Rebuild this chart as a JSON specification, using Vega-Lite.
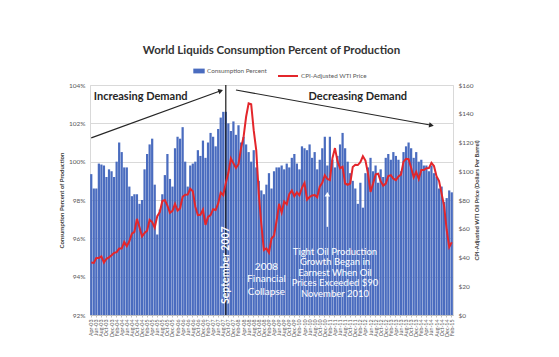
{
  "$schema": "https://vega.github.io/schema/vega-lite/v6.json",
  "width": 363,
  "height": 230,
  "autosize": {"type": "none"},
  "padding": {"left": 90, "top": 85, "right": 106, "bottom": 42},
  "background": "white",
  "config": {
    "font": "Lato",
    "view": {"stroke": "#d9d9d9"},
    "axis": {"labelColor": "#595959", "labelFont": "Lato", "titleFont": "Lato", "titleColor": "#404040"},
    "legend": {"labelFont": "Lato", "labelColor": "#595959", "labelFontSize": 6.3, "padding": 0}
  },
  "title": {"text": "World Liquids Consumption Percent of Production", "fontSize": 11.5, "fontWeight": "bold", "color": "#333333", "offset": 9, "font": "Lato"},
  "datasets": {
    "main": [
      {"m":"Apr-03","c":99.35,"p":36.5},{"m":"May-03","c":98.6,"p":36.2},{"m":"Jun-03","c":98.6,"p":39.6},{"m":"Jul-03","c":99.9,"p":39.7},{"m":"Aug-03","c":99.85,"p":40.8},{"m":"Sep-03","c":99.8,"p":36.5},{"m":"Oct-03","c":99.2,"p":39.1},{"m":"Nov-03","c":99.6,"p":40.1},{"m":"Dec-03","c":99.5,"p":41.5},
      {"m":"Jan-04","c":99.2,"p":43.2},{"m":"Feb-04","c":100.0,"p":43.7},{"m":"Mar-04","c":101.0,"p":46.2},{"m":"Apr-04","c":100.5,"p":46.2},{"m":"May-04","c":99.7,"p":50.8},{"m":"Jun-04","c":99.7,"p":47.9},{"m":"Jul-04","c":98.7,"p":51.3},{"m":"Aug-04","c":98.2,"p":56.6},{"m":"Sep-04","c":98.3,"p":57.8},{"m":"Oct-04","c":98.3,"p":66.9},{"m":"Nov-04","c":97.8,"p":61.1},{"m":"Dec-04","c":98.0,"p":54.6},
      {"m":"Jan-05","c":99.6,"p":57.1},{"m":"Feb-05","c":100.4,"p":58.6},{"m":"Mar-05","c":100.9,"p":66.2},{"m":"Apr-05","c":101.2,"p":64.7},{"m":"May-05","c":98.8,"p":60.8},{"m":"Jun-05","c":96.2,"p":68.7},{"m":"Jul-05","c":97.5,"p":71.6},{"m":"Aug-05","c":98.3,"p":79.3},{"m":"Sep-05","c":99.3,"p":80.0},{"m":"Oct-05","c":100.4,"p":76.1},{"m":"Nov-05","c":99.1,"p":71.1},{"m":"Dec-05","c":98.7,"p":72.5},
      {"m":"Jan-06","c":100.7,"p":77.3},{"m":"Feb-06","c":101.3,"p":72.7},{"m":"Mar-06","c":101.2,"p":74.2},{"m":"Apr-06","c":101.8,"p":82.2},{"m":"May-06","c":100.0,"p":83.7},{"m":"Jun-06","c":98.7,"p":83.8},{"m":"Jul-06","c":99.8,"p":87.8},{"m":"Aug-06","c":99.9,"p":86.1},{"m":"Sep-06","c":100.0,"p":75.3},{"m":"Oct-06","c":100.6,"p":69.5},{"m":"Nov-06","c":100.3,"p":69.7},{"m":"Dec-06","c":101.1,"p":73.2},
      {"m":"Jan-07","c":100.2,"p":62.7},{"m":"Feb-07","c":101.0,"p":68.2},{"m":"Mar-07","c":101.5,"p":69.5},{"m":"Apr-07","c":101.3,"p":73.6},{"m":"May-07","c":100.8,"p":73.0},{"m":"Jun-07","c":101.7,"p":77.6},{"m":"Jul-07","c":102.3,"p":85.2},{"m":"Aug-07","c":102.6,"p":83.3},{"m":"Sep-07","c":102.6,"p":91.9},{"m":"Oct-07","c":102.0,"p":98.7},{"m":"Nov-07","c":101.6,"p":109.0},{"m":"Dec-07","c":102.1,"p":105.5},
      {"m":"Jan-08","c":101.4,"p":102.3},{"m":"Feb-08","c":101.9,"p":104.9},{"m":"Mar-08","c":101.0,"p":116.1},{"m":"Apr-08","c":101.3,"p":123.9},{"m":"May-08","c":100.9,"p":137.9},{"m":"Jun-08","c":100.5,"p":147.3},{"m":"Jul-08","c":100.0,"p":146.7},{"m":"Aug-08","c":100.6,"p":128.4},{"m":"Sep-08","c":99.7,"p":114.5},{"m":"Oct-08","c":99.0,"p":84.3},{"m":"Nov-08","c":98.5,"p":63.0},{"m":"Dec-08","c":98.3,"p":45.2},
      {"m":"Jan-09","c":98.8,"p":46.3},{"m":"Feb-09","c":99.4,"p":43.4},{"m":"Mar-09","c":98.6,"p":53.2},{"m":"Apr-09","c":99.5,"p":55.2},{"m":"May-09","c":99.7,"p":65.5},{"m":"Jun-09","c":99.7,"p":77.3},{"m":"Jul-09","c":99.8,"p":71.3},{"m":"Aug-09","c":99.6,"p":78.9},{"m":"Sep-09","c":99.9,"p":77.0},{"m":"Oct-09","c":99.7,"p":84.0},{"m":"Nov-09","c":100.2,"p":86.6},{"m":"Dec-09","c":100.4,"p":82.7},
      {"m":"Jan-10","c":99.9,"p":85.3},{"m":"Feb-10","c":99.6,"p":83.3},{"m":"Mar-10","c":100.8,"p":88.5},{"m":"Apr-10","c":100.7,"p":91.9},{"m":"May-10","c":100.6,"p":80.3},{"m":"Jun-10","c":100.9,"p":82.1},{"m":"Jul-10","c":100.2,"p":83.2},{"m":"Aug-10","c":100.5,"p":83.5},{"m":"Sep-10","c":99.6,"p":82.0},{"m":"Oct-10","c":100.1,"p":89.3},{"m":"Nov-10","c":100.7,"p":91.9},{"m":"Dec-10","c":101.3,"p":97.2},
      {"m":"Jan-11","c":99.8,"p":94.6},{"m":"Feb-11","c":101.3,"p":93.9},{"m":"Mar-11","c":100.1,"p":109.1},{"m":"Apr-11","c":99.7,"p":116.1},{"m":"May-11","c":100.3,"p":107.0},{"m":"Jun-11","c":100.9,"p":102.1},{"m":"Jul-11","c":101.5,"p":103.1},{"m":"Aug-11","c":100.7,"p":91.5},{"m":"Sep-11","c":100.0,"p":90.6},{"m":"Oct-11","c":99.4,"p":91.5},{"m":"Nov-11","c":99.0,"p":103.0},{"m":"Dec-11","c":98.6,"p":104.5},
      {"m":"Jan-12","c":97.8,"p":104.3},{"m":"Feb-12","c":98.9,"p":106.3},{"m":"Mar-12","c":97.6,"p":110.4},{"m":"Apr-12","c":99.4,"p":107.4},{"m":"May-12","c":99.7,"p":98.5},{"m":"Jun-12","c":100.2,"p":85.6},{"m":"Jul-12","c":99.5,"p":91.4},{"m":"Aug-12","c":99.8,"p":97.9},{"m":"Sep-12","c":98.9,"p":98.3},{"m":"Oct-12","c":99.6,"p":93.1},{"m":"Nov-12","c":99.2,"p":90.0},{"m":"Dec-12","c":100.2,"p":91.4},
      {"m":"Jan-13","c":100.4,"p":96.7},{"m":"Feb-13","c":100.1,"p":97.2},{"m":"Mar-13","c":100.5,"p":94.8},{"m":"Apr-13","c":100.3,"p":93.8},{"m":"May-13","c":100.1,"p":96.4},{"m":"Jun-13","c":99.5,"p":97.7},{"m":"Jul-13","c":100.5,"p":106.7},{"m":"Aug-13","c":100.8,"p":108.7},{"m":"Sep-13","c":101.0,"p":108.4},{"m":"Oct-13","c":100.7,"p":102.5},{"m":"Nov-13","c":100.2,"p":95.8},{"m":"Dec-13","c":100.5,"p":99.6},
      {"m":"Jan-14","c":100.0,"p":94.6},{"m":"Feb-14","c":100.1,"p":100.8},{"m":"Mar-14","c":99.8,"p":100.8},{"m":"Apr-14","c":99.8,"p":102.1},{"m":"May-14","c":99.5,"p":102.2},{"m":"Jun-14","c":99.8,"p":105.8},{"m":"Jul-14","c":99.4,"p":103.6},{"m":"Aug-14","c":99.2,"p":96.5},{"m":"Sep-14","c":98.6,"p":93.2},{"m":"Oct-14","c":98.7,"p":84.4},{"m":"Nov-14","c":97.9,"p":75.8},{"m":"Dec-14","c":98.1,"p":59.3},
      {"m":"Jan-15","c":98.5,"p":47.2},{"m":"Feb-15","c":98.4,"p":50.6}
    ]
  },
  "encoding": {
    "x": {
      "field": "m", "type": "ordinal", "sort": null,
      "scale": {
        "paddingInner": 0.12, "paddingOuter": 0.05,
        "domain": ["Apr-03","May-03","Jun-03","Jul-03","Aug-03","Sep-03","Oct-03","Nov-03","Dec-03",
          "Jan-04","Feb-04","Mar-04","Apr-04","May-04","Jun-04","Jul-04","Aug-04","Sep-04","Oct-04","Nov-04","Dec-04",
          "Jan-05","Feb-05","Mar-05","Apr-05","May-05","Jun-05","Jul-05","Aug-05","Sep-05","Oct-05","Nov-05","Dec-05",
          "Jan-06","Feb-06","Mar-06","Apr-06","May-06","Jun-06","Jul-06","Aug-06","Sep-06","Oct-06","Nov-06","Dec-06",
          "Jan-07","Feb-07","Mar-07","Apr-07","May-07","Jun-07","Jul-07","Aug-07","Sep-07","Oct-07","Nov-07","Dec-07",
          "Jan-08","Feb-08","Mar-08","Apr-08","May-08","Jun-08","Jul-08","Aug-08","Sep-08","Oct-08","Nov-08","Dec-08",
          "Jan-09","Feb-09","Mar-09","Apr-09","May-09","Jun-09","Jul-09","Aug-09","Sep-09","Oct-09","Nov-09","Dec-09",
          "Jan-10","Feb-10","Mar-10","Apr-10","May-10","Jun-10","Jul-10","Aug-10","Sep-10","Oct-10","Nov-10","Dec-10",
          "Jan-11","Feb-11","Mar-11","Apr-11","May-11","Jun-11","Jul-11","Aug-11","Sep-11","Oct-11","Nov-11","Dec-11",
          "Jan-12","Feb-12","Mar-12","Apr-12","May-12","Jun-12","Jul-12","Aug-12","Sep-12","Oct-12","Nov-12","Dec-12",
          "Jan-13","Feb-13","Mar-13","Apr-13","May-13","Jun-13","Jul-13","Aug-13","Sep-13","Oct-13","Nov-13","Dec-13",
          "Jan-14","Feb-14","Mar-14","Apr-14","May-14","Jun-14","Jul-14","Aug-14","Sep-14","Oct-14","Nov-14","Dec-14",
          "Jan-15","Feb-15"]
      },
      "axis": {
        "title": null, "labelAngle": 270, "labelFontSize": 5.3, "labelPadding": 2,
        "tickSize": 2, "tickColor": "#bfbfbf", "domainColor": "#bfbfbf",
        "values": ["Apr-03","Jun-03","Aug-03","Oct-03","Dec-03",
          "Feb-04","Apr-04","Jun-04","Aug-04","Oct-04","Dec-04",
          "Feb-05","Apr-05","Jun-05","Aug-05","Oct-05","Dec-05",
          "Feb-06","Apr-06","Jun-06","Aug-06","Oct-06","Dec-06",
          "Feb-07","Apr-07","Jun-07","Aug-07","Oct-07","Dec-07",
          "Feb-08","Apr-08","Jun-08","Aug-08","Oct-08","Dec-08",
          "Feb-09","Apr-09","Jun-09","Aug-09","Oct-09","Dec-09",
          "Feb-10","Apr-10","Jun-10","Aug-10","Oct-10","Dec-10",
          "Feb-11","Apr-11","Jun-11","Aug-11","Oct-11","Dec-11",
          "Feb-12","Apr-12","Jun-12","Aug-12","Oct-12","Dec-12",
          "Feb-13","Apr-13","Jun-13","Aug-13","Oct-13","Dec-13",
          "Feb-14","Apr-14","Jun-14","Aug-14","Oct-14","Dec-14",
          "Feb-15"]
      }
    }
  },
  "layer": [
    {
      "encoding": {
        "y": {
          "field": "c", "type": "quantitative",
          "scale": {"domain": [92, 104], "zero": false, "nice": false},
          "axis": {
            "values": [92, 94, 96, 98, 100, 102, 104], "labelExpr": "datum.value + '%'",
            "labelFontSize": 6.5, "labelPadding": 5, "domain": false, "ticks": false,
            "grid": true, "gridColor": "#d9d9d9",
            "title": "Consumption Percent of Production", "titleFontSize": 6, "titleFontWeight": "bold", "titlePadding": 4
          }
        }
      },
      "layer": [
        {
          "data": {"name": "main"},
          "mark": {"type": "bar"},
          "encoding": {
            "y2": {"datum": 92},
            "fill": {"datum": "Consumption Percent", "type": "nominal", "scale": {"range": ["#4a6cbf"]},
              "legend": {"orient": "none", "legendX": 103, "legendY": -20, "title": null, "symbolType": "M-1,-0.42L1,-0.42L1,0.42L-1,0.42Z", "symbolSize": 130, "symbolStrokeWidth": 0, "labelOffset": 2}}
          }
        },
        {
          "data": {"values": [{"m": "Sep-07", "c": 92, "c2": 104}]},
          "mark": {"type": "rule", "color": "#1a1a1a", "strokeWidth": 1.2},
          "encoding": {"y2": {"field": "c2"}}
        },
        {
          "data": {"values": [
            {"g": "up", "m": "Apr-03", "c": 101.24}, {"g": "up", "m": "Jul-07", "c": 103.7},
            {"g": "down", "m": "Jan-08", "c": 103.74}, {"g": "down", "m": "Jun-14", "c": 101.9}
          ]},
          "mark": {"type": "line", "color": "#262626", "strokeWidth": 1.2},
          "encoding": {"detail": {"field": "g", "type": "nominal"}}
        },
        {
          "data": {"values": [{"m": "Jul-07", "c": 103.7}]},
          "mark": {"type": "point", "shape": "triangle-right", "filled": true, "size": 30, "color": "#262626", "opacity": 1, "angle": 340}
        },
        {
          "data": {"values": [{"m": "Jun-14", "c": 101.9}]},
          "mark": {"type": "point", "shape": "triangle-right", "filled": true, "size": 30, "color": "#262626", "opacity": 1, "angle": 10}
        },
        {
          "data": {"values": [{"m": "Jan-11", "c": 96.6, "c2": 98.2}]},
          "mark": {"type": "rule", "color": "white", "strokeWidth": 1.5},
          "encoding": {"y2": {"field": "c2"}}
        },
        {
          "data": {"values": [{"m": "Jan-11", "c": 98.3}]},
          "mark": {"type": "point", "shape": "triangle-up", "filled": true, "size": 30, "color": "white", "opacity": 1}
        },
        {
          "data": {"values": [{"m": "May-03", "c": 103.37, "t": "Increasing Demand"}]},
          "mark": {"type": "text", "align": "left", "baseline": "middle", "fontSize": 11, "fontWeight": "bold", "color": "#262626"},
          "encoding": {"text": {"field": "t"}}
        },
        {
          "data": {"values": [{"m": "Jan-12", "c": 103.37, "t": "Decreasing Demand"}]},
          "mark": {"type": "text", "align": "center", "baseline": "middle", "fontSize": 11, "fontWeight": "bold", "color": "#262626"},
          "encoding": {"text": {"field": "t"}}
        },
        {
          "data": {"values": [{"m": "Sep-07", "c": 94.6, "t": "September 2007"}]},
          "mark": {"type": "text", "align": "center", "baseline": "middle", "angle": 270, "fontSize": 10.5, "fontWeight": "bold", "color": "white"},
          "encoding": {"text": {"field": "t"}}
        },
        {
          "data": {"values": [{"m": "Jan-09", "c": 94.77, "t": "2008|Financial|Collapse"}]},
          "mark": {"type": "text", "align": "center", "baseline": "top", "lineBreak": "|", "lineHeight": 12.5, "fontSize": 10, "color": "white"},
          "encoding": {"text": {"field": "t"}}
        },
        {
          "data": {"values": [{"m": "Apr-11", "c": 95.55, "t": "Tight Oil Production|Growth Began in|Earnest When Oil|Prices Exceeded $90|November 2010"}]},
          "mark": {"type": "text", "align": "center", "baseline": "top", "lineBreak": "|", "lineHeight": 10.5, "fontSize": 9.5, "color": "white"},
          "encoding": {"text": {"field": "t"}}
        }
      ]
    },
    {
      "data": {"name": "main"},
      "mark": {"type": "line", "strokeWidth": 2},
      "encoding": {
        "y": {
          "field": "p", "type": "quantitative",
          "scale": {"domain": [0, 160], "nice": false},
          "axis": {
            "orient": "right", "values": [0, 20, 40, 60, 80, 100, 120, 140, 160], "labelExpr": "'$' + datum.value",
            "labelFontSize": 6.5, "labelPadding": 5, "domain": false, "ticks": false, "grid": false,
            "title": "CPI-Adjusted WTI Oil Price (Dollars Per Barrel)", "titleFontSize": 5.8, "titleFontWeight": "bold", "titleAngle": 270, "titlePadding": 6
          }
        },
        "stroke": {"datum": "CPI-Adjusted WTI Price", "type": "nominal", "scale": {"range": ["#e3262b"]},
          "legend": {"orient": "none", "legendX": 187, "legendY": -20, "title": null, "symbolType": "stroke", "symbolSize": 400, "symbolStrokeWidth": 2, "labelOffset": 2}}
      }
    }
  ],
  "resolve": {"scale": {"y": "independent"}}
}
